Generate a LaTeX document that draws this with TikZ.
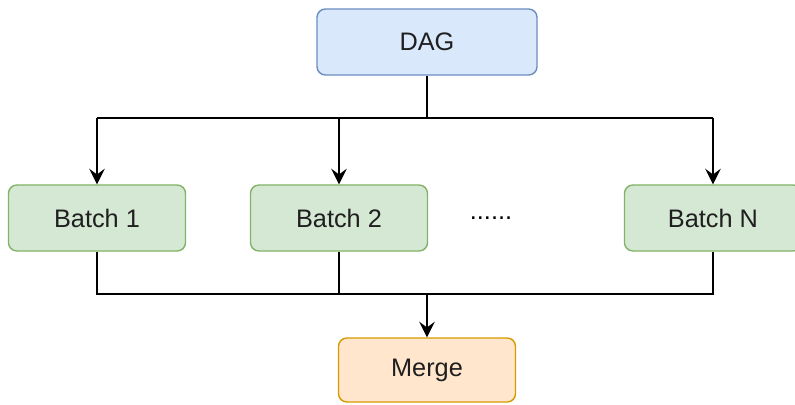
\documentclass[tikz,border=0pt]{standalone}
\usepackage{fontspec}
\setmainfont{Liberation Sans}
\usepackage{tikz}
\usetikzlibrary{calc,arrows.meta}
\definecolor{dagfill}{HTML}{DAE8FC}
\definecolor{dagline}{HTML}{6C8EBF}
\definecolor{batchfill}{HTML}{D5E8D4}
\definecolor{batchline}{HTML}{82B366}
\definecolor{mergefill}{HTML}{FFE6CC}
\definecolor{mergeline}{HTML}{D79B00}

\begin{document}
\begin{tikzpicture}[x=0.025cm,y=-0.025cm,font=\fontsize{18}{21}\selectfont]
\tikzstyle{box}=[rectangle,rounded corners=6pt,line width=1pt,minimum height=1.65cm,text=black!88]
\tikzstyle{dag node}=[box,draw=dagline,fill=dagfill,minimum width=5.5cm]
\tikzstyle{batch node}=[box,draw=batchline,fill=batchfill,minimum width=4.425cm]
\tikzstyle{merge node}=[box,draw=mergeline,fill=mergefill,minimum width=4.425cm,minimum height=1.6cm]
\tikzstyle{wire}=[line width=1.4pt]
\tikzstyle{arrow}=[wire,-{Stealth[length=11pt,width=11pt,inset=4pt]}]

\useasboundingbox (0,0) rectangle (795,405);

\node(dag)[dag node] at (427,42) {DAG};
\node(b1)[batch node] at (97,218) {Batch 1};
\node(b2)[batch node] at (339,218) {Batch 2};
\node(bn)[batch node] at (713,218) {Batch N};
\node(dots) at (491,218) {......};
\node(merge)[merge node] at (427,370) {Merge};

% fan out
\coordinate(split) at (427,118);
\draw[wire] (dag) -- (split);
\draw[wire] (b1 |- split) -- (bn |- split);
\draw[arrow] (b1 |- split) -- (b1);
\draw[arrow] (b2 |- split) -- (b2);
\draw[arrow] (bn |- split) -- (bn);

% gather
\coordinate(join) at (427,294);
\draw[wire] (b1) -- (b1 |- join) -- (bn |- join) -- (bn);
\draw[wire] (b2) -- (b2 |- join);
\draw[arrow] (join) -- (merge);

\end{tikzpicture}
\end{document}
